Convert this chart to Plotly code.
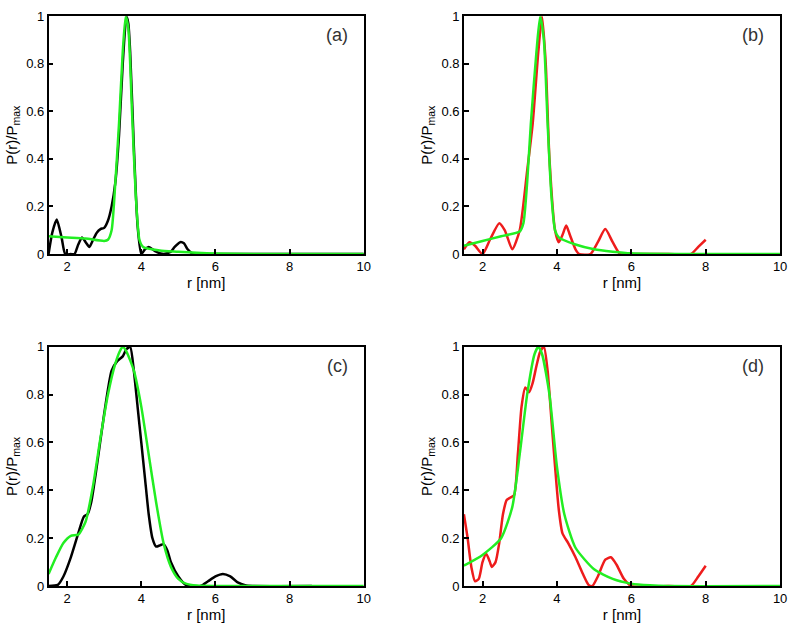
import plotly.graph_objects as go

# ---------------- data ----------------
# panel (a)
a_black_x = [1.5, 1.6, 1.72, 1.85, 1.95, 2.1, 2.2, 2.3, 2.4, 2.5, 2.6, 2.7, 2.8, 2.9, 3.0, 3.1, 3.2, 3.3, 3.4, 3.5, 3.6, 3.65, 3.7, 3.8, 3.9, 4.0, 4.1, 4.2, 4.4, 4.6, 4.8, 4.9, 5.05, 5.15, 5.25, 5.4, 6.0, 8.0, 10.0]
a_black_y = [0.0, 0.09, 0.145, 0.07, 0.0, 0.0, 0.0, 0.04, 0.07, 0.05, 0.03, 0.06, 0.09, 0.105, 0.11, 0.14, 0.2, 0.3, 0.5, 0.8, 1.0, 0.97, 0.85, 0.45, 0.12, 0.0, 0.02, 0.03, 0.01, 0.0, 0.01, 0.03, 0.05, 0.045, 0.02, 0.0, 0.0, 0.0, 0.0]
a_green_x = [1.5, 2.0, 2.5, 3.0, 3.1, 3.2, 3.3, 3.4, 3.5, 3.58, 3.65, 3.75, 3.85, 3.95, 4.05, 4.5, 5.0, 5.5, 6.0, 8.0, 10.0]
a_green_y = [0.075, 0.07, 0.065, 0.055, 0.06, 0.1, 0.3, 0.55, 0.85, 1.0, 0.95, 0.6, 0.25, 0.06, 0.03, 0.015, 0.01, 0.005, 0.002, 0.0, 0.0]

# panel (b)
b_red_x = [1.5, 1.65, 1.8, 2.0, 2.2, 2.45, 2.6, 2.8, 3.0, 3.2, 3.35, 3.5, 3.6, 3.7, 3.8, 3.95, 4.05, 4.15, 4.25, 4.35, 4.5, 4.6, 4.9, 5.1, 5.3, 5.5, 5.7, 6.0, 7.0, 7.6, 7.8, 8.0]
b_red_y = [0.02, 0.05, 0.035, 0.0, 0.06, 0.13, 0.1, 0.02, 0.1, 0.35, 0.55, 0.85, 1.0, 0.8, 0.4, 0.1, 0.05, 0.08, 0.12, 0.08, 0.02, 0.0, 0.0, 0.05, 0.105, 0.05, 0.0, 0.0, 0.0, 0.0, 0.03, 0.06]
b_green_x = [1.5, 2.0, 2.5, 3.0, 3.1, 3.2, 3.3, 3.45, 3.55, 3.65, 3.75, 3.85, 3.95, 4.05, 4.5, 5.0, 5.5, 6.0, 6.5, 8.0, 10.0]
b_green_y = [0.035, 0.055, 0.075, 0.095, 0.13, 0.3, 0.55, 0.85, 1.0, 0.9, 0.55, 0.25, 0.1, 0.07, 0.04, 0.02, 0.01, 0.003, 0.001, 0.0, 0.0]

# panel (c)
c_black_x = [1.5, 1.75, 1.9, 2.1, 2.3, 2.45, 2.55, 2.65, 2.8, 3.0, 3.2, 3.35, 3.5, 3.6, 3.7, 3.8, 3.9, 4.0, 4.1, 4.2, 4.3, 4.4, 4.5, 4.6, 4.7, 4.8, 5.0, 5.2, 5.4, 5.6, 5.8, 6.0, 6.2, 6.4, 6.6, 6.8, 7.0, 8.6]
c_black_y = [0.0, 0.005, 0.04, 0.12, 0.22, 0.29, 0.3, 0.35, 0.5, 0.72, 0.9, 0.94, 0.96, 0.99, 1.0, 0.9, 0.75, 0.6, 0.45, 0.3, 0.2, 0.165, 0.17, 0.175, 0.15, 0.1, 0.04, 0.005, 0.0, 0.0, 0.02, 0.04, 0.05, 0.04, 0.015, 0.003, 0.0, 0.0]
c_green_x = [1.5, 1.7, 1.9, 2.1, 2.3, 2.5, 2.7, 2.9, 3.1, 3.3, 3.45, 3.5, 3.6, 3.8, 4.0, 4.2, 4.4, 4.6, 4.8, 5.0, 5.2, 5.5, 6.0, 8.0, 10.0]
c_green_y = [0.05, 0.12, 0.18, 0.21, 0.215, 0.27, 0.42, 0.62, 0.8, 0.93, 0.99, 1.0, 0.98, 0.9, 0.75, 0.55, 0.35, 0.18, 0.08, 0.03, 0.01, 0.002, 0.0, 0.0, 0.0]

# panel (d)
d_red_x = [1.5, 1.6, 1.7, 1.8, 1.9, 2.0, 2.1, 2.2, 2.25, 2.35, 2.45, 2.55, 2.65, 2.75, 2.85, 2.95, 3.05, 3.15, 3.25, 3.35, 3.45, 3.55, 3.65, 3.75, 3.85, 3.95, 4.05, 4.15, 4.3, 4.5, 4.7, 4.85, 4.95, 5.1, 5.3, 5.45, 5.6, 5.8, 6.0, 7.0, 7.6, 7.8, 8.0]
d_red_y = [0.3, 0.2, 0.08, 0.02, 0.03, 0.1, 0.135, 0.1, 0.08, 0.1, 0.18, 0.3, 0.36, 0.37, 0.38, 0.55, 0.75, 0.83, 0.81, 0.85, 0.92, 0.98, 1.0, 0.9, 0.7, 0.5, 0.32, 0.22, 0.18, 0.12, 0.05, 0.005, 0.0, 0.04, 0.11, 0.12, 0.09, 0.03, 0.0, 0.0, 0.0, 0.04, 0.085]
d_green_x = [1.5, 2.0, 2.5, 2.8, 3.0, 3.2, 3.4, 3.5, 3.6, 3.8, 4.0, 4.2, 4.5, 5.0, 5.5, 6.0, 6.5, 7.0, 10.0]
d_green_y = [0.085, 0.13, 0.2, 0.33, 0.55, 0.8, 0.97, 1.0, 0.97, 0.8, 0.5, 0.3, 0.16, 0.07, 0.03, 0.01, 0.003, 0.0, 0.0]

panel_labels = ["(a)", "(b)", "(c)", "(d)"]
x_ticks = [2, 4, 6, 8, 10]
y_ticks = [0, 0.2, 0.4, 0.6, 0.8, 1]
y_tick_text = ["0", "0.2", "0.4", "0.6", "0.8", "1"]

# ---------------- figure ----------------
BLACK = "#000000"
GREEN = "#22ee22"
RED = "#ee1c1c"
W, H = 800, 637

fig = go.Figure()

panels = [
    (a_black_x, a_black_y, BLACK, a_green_x, a_green_y),
    (b_red_x, b_red_y, RED, b_green_x, b_green_y),
    (c_black_x, c_black_y, BLACK, c_green_x, c_green_y),
    (d_red_x, d_red_y, RED, d_green_x, d_green_y),
]

# pixel boxes: (left, right, top, bottom)
boxes = [(49, 367, 9.5, 253), (468, 787, 9.5, 253), (49, 367, 348, 593), (468, 787, 348, 593)]

font_family = "Liberation Sans, Arial, sans-serif"

for i, ((x1, y1, c1, x2, y2), (l, r, t, b)) in enumerate(zip(panels, boxes)):
    n = "" if i == 0 else str(i + 1)
    xa, ya = "x" + n, "y" + n
    fig.add_trace(go.Scatter(x=x1, y=y1, mode="lines", line=dict(color=c1, width=2.5, shape="spline", smoothing=0.6),
                             xaxis=xa, yaxis=ya, showlegend=False, cliponaxis=True, hoverinfo="skip"))
    fig.add_trace(go.Scatter(x=x2, y=y2, mode="lines", line=dict(color=GREEN, width=2.5, shape="spline", smoothing=0.6),
                             xaxis=xa, yaxis=ya, showlegend=False, cliponaxis=True, hoverinfo="skip"))
    common = dict(showgrid=False, zeroline=False, showline=True, linecolor="black", linewidth=1.5,
                  mirror=True, ticks="inside", ticklen=5, tickwidth=1.5, tickcolor="black",
                  tickfont=dict(family=font_family, size=13, color="black"))
    fig.layout["xaxis" + n] = dict(domain=[l / W, r / W], anchor=ya, range=[1.5, 10],
                                   tickvals=x_ticks, title=dict(text="r [nm]", standoff=3,
                                   font=dict(family=font_family, size=15, color="black")), **common)
    fig.layout["yaxis" + n] = dict(domain=[1 - b / H, 1 - t / H], anchor=xa, range=[0, 1],
                                   tickvals=y_ticks, ticktext=y_tick_text,
                                   title=dict(text="P(r)/P<sub>max</sub>", standoff=5,
                                   font=dict(family=font_family, size=15, color="black")), **common)
    fig.add_annotation(x=9.28, y=0.92, xref=xa, yref=ya, text=panel_labels[i], showarrow=False,
                       font=dict(family=font_family, size=18, color="#333333"))

fig.update_layout(width=W, height=H, margin=dict(l=0, r=0, t=0, b=0),
                  paper_bgcolor="white", plot_bgcolor="white")

fig.write_html("out.html", config={"displayModeBar": False},
               post_script="document.body.style.margin='0px';")
